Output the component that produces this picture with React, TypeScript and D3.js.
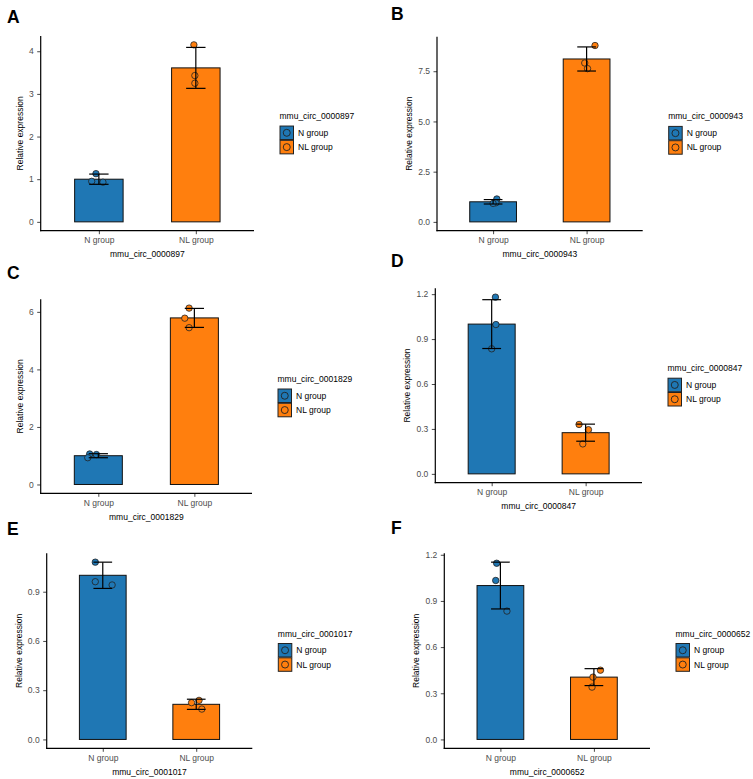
import { useEffect, useRef } from "react";
import * as d3 from "d3";

const panelLabels = ["A", "B", "C", "D", "E", "F"];
const genes = ["mmu_circ_0000897", "mmu_circ_0000943", "mmu_circ_0001829", "mmu_circ_0000847", "mmu_circ_0001017", "mmu_circ_0000652"];
const groups = ["N group", "NL group"];

const nMean = [1.0, 1.0, 1.0, 1.0, 1.0, 1.0];
const nlMean = [3.61, 8.11, 5.79, 0.275, 0.214, 0.405];
const nSd = [0.12, 0.11, 0.07, 0.163, 0.08, 0.152];
const nlSd = [0.48, 0.6, 0.33, 0.057, 0.031, 0.055];

const nPoints = [
  [1.13, 0.95, 0.93],
  [1.14, 0.95, 0.92],
  [1.06, 0.93, 1.04],
  [1.18, 0.997, 0.835],
  [1.08, 0.961, 0.941],
  [1.145, 1.033, 0.834],
];
const nlPoints = [
  [4.15, 3.43, 3.25],
  [8.78, 7.91, 7.63],
  [6.13, 5.78, 5.45],
  [0.33, 0.295, 0.2],
  [0.224, 0.238, 0.185],
  [0.45, 0.405, 0.34],
];
// horizontal jitter, as a fraction of the group spacing
const nJitter = [
  [-0.03, -0.074, 0.042],
  [0.04, 0.03, 0.0],
  [-0.09, -0.11, -0.02],
  [0.04, 0.045, 0.0],
  [-0.08, -0.08, 0.1],
  [-0.04, -0.05, 0.07],
];
const nlJitter = [
  [-0.02, -0.01, -0.01],
  [0.09, -0.02, 0.01],
  [-0.055, -0.1, -0.055],
  [-0.07, 0.03, -0.03],
  [-0.05, 0.03, 0.06],
  [0.07, -0.01, -0.02],
];

const yTicks = [
  [0, 1, 2, 3, 4],
  [0, 2.5, 5, 7.5],
  [0, 2, 4, 6],
  [0, 0.3, 0.6, 0.9, 1.2],
  [0, 0.3, 0.6, 0.9],
  [0, 0.3, 0.6, 0.9, 1.2],
];
const tickDigits = [0, 1, 0, 1, 1, 1];

const COLORS = ["#1f77b4", "#ff7f0e"];

// plot frames in page pixels
const frames = [
  { left: 40.7, right: 254, top: 36, bottom: 230.7, lx: 7, ly: 23 },
  { left: 437, right: 642.7, top: 36.7, bottom: 230.7, lx: 391, ly: 20 },
  { left: 40.7, right: 252, top: 299.3, bottom: 493.3, lx: 7, ly: 279 },
  { left: 435.3, right: 642, top: 288.3, bottom: 482.7, lx: 391, ly: 267 },
  { left: 46.7, right: 252.3, top: 553.3, bottom: 748.3, lx: 7, ly: 535 },
  { left: 444.3, right: 650, top: 553.3, bottom: 748.3, lx: 391, ly: 534 },
];

const FONT = "'Liberation Sans', Arial, sans-serif";

export default function App() {
  const ref = useRef<SVGSVGElement>(null);

  useEffect(() => {
    if (!ref.current) return;
    const svg = d3.select(ref.current);
    svg.selectAll("*").remove();

    genes.forEach((gene, i) => {
      const f = frames[i];
      const g = svg.append("g");

      const means = [nMean[i], nlMean[i]];
      const sds = [nSd[i], nlSd[i]];
      const pts = [nPoints[i], nlPoints[i]];
      const jit = [nJitter[i], nlJitter[i]];

      const hi = Math.max(...pts.flat(), ...means.map((m, k) => m + sds[k]));
      const y = d3
        .scaleLinear()
        .domain([-0.05 * hi, 1.05 * hi])
        .range([f.bottom, f.top]);
      const x = d3.scalePoint<string>().domain(groups).range([f.left, f.right]).padding(0.6);
      const step = x.step();
      const barW = step * 0.5;
      const capW = step * 0.2;

      // panel letter
      svg
        .append("text")
        .attr("x", f.lx)
        .attr("y", f.ly)
        .attr("font-family", FONT)
        .attr("font-weight", "bold")
        .attr("font-size", 17.5)
        .attr("fill", "#000")
        .text(panelLabels[i]);

      // bars
      g.selectAll(".bar")
        .data(groups)
        .join("rect")
        .attr("x", (d) => x(d)! - barW / 2)
        .attr("y", (_, k) => y(means[k]))
        .attr("width", barW)
        .attr("height", (_, k) => y(0) - y(means[k]))
        .attr("fill", (_, k) => COLORS[k])
        .attr("stroke", "#111")
        .attr("stroke-width", 1);

      // points
      groups.forEach((grp, k) => {
        g.selectAll(null)
          .data(pts[k])
          .join("circle")
          .attr("cx", (_, j) => x(grp)! + jit[k][j] * step)
          .attr("cy", (d) => y(d))
          .attr("r", 3.2)
          .attr("fill", COLORS[k])
          .attr("stroke", "#222")
          .attr("stroke-width", 0.8);
      });

      // error bars
      groups.forEach((grp, k) => {
        const cx = x(grp)!;
        const lo = y(means[k] - sds[k]);
        const up = y(means[k] + sds[k]);
        const eb = g.append("g").attr("stroke", "#000").attr("stroke-width", 1.2).attr("fill", "none");
        eb.append("line").attr("x1", cx).attr("x2", cx).attr("y1", lo).attr("y2", up);
        eb.append("line").attr("x1", cx - capW / 2).attr("x2", cx + capW / 2).attr("y1", lo).attr("y2", lo);
        eb.append("line").attr("x1", cx - capW / 2).attr("x2", cx + capW / 2).attr("y1", up).attr("y2", up);
      });

      // y axis
      const fmt = d3.format(`.${tickDigits[i]}f`);
      const ya = g
        .append("g")
        .attr("transform", `translate(${f.left},0)`)
        .call(d3.axisLeft(y).tickValues(yTicks[i]).tickFormat((d) => fmt(d as number)).tickSize(3.5).tickPadding(3.5).tickSizeOuter(0));
      ya.select(".domain").remove();
      ya.selectAll(".tick line").attr("stroke", "#333").attr("stroke-width", 0.9);
      ya.selectAll("text").attr("font-family", FONT).attr("font-size", 8.5).attr("fill", "#4d4d4d");

      // x axis
      const xa = g
        .append("g")
        .attr("transform", `translate(0,${f.bottom})`)
        .call(d3.axisBottom(x).tickSize(3.5).tickPadding(3).tickSizeOuter(0));
      xa.select(".domain").remove();
      xa.selectAll(".tick line").attr("stroke", "#333").attr("stroke-width", 0.9);
      xa.selectAll("text").attr("font-family", FONT).attr("font-size", 8.5).attr("fill", "#4d4d4d");

      // axis lines
      g.append("line").attr("x1", f.left).attr("x2", f.left).attr("y1", f.top).attr("y2", f.bottom + 0.6).attr("stroke", "#000").attr("stroke-width", 1.2);
      g.append("line").attr("x1", f.left - 0.6).attr("x2", f.right).attr("y1", f.bottom).attr("y2", f.bottom).attr("stroke", "#000").attr("stroke-width", 1.2);

      // axis titles
      let labelLeft = f.left;
      ya.selectAll<SVGTextElement, unknown>("text").each(function () {
        const b = this.getBBox();
        const gx = f.left + b.x;
        if (gx < labelLeft) labelLeft = gx;
      });
      g.append("text")
        .attr("transform", `translate(${labelLeft - 6},${(f.top + f.bottom) / 2}) rotate(-90)`)
        .attr("text-anchor", "middle")
        .attr("font-family", FONT)
        .attr("font-size", 8.5)
        .attr("fill", "#000")
        .text("Relative expression");
      g.append("text")
        .attr("x", (f.left + f.right) / 2)
        .attr("y", f.bottom + 26.5)
        .attr("text-anchor", "middle")
        .attr("font-family", FONT)
        .attr("font-size", 8.5)
        .attr("fill", "#000")
        .text(gene);

      // legend
      const lx = f.right + 25.5;
      const ly = (f.top + f.bottom) / 2 - 14.3;
      const lg = g.append("g").attr("transform", `translate(${lx},${ly})`);
      lg.append("text").attr("x", 0).attr("y", 0).attr("font-family", FONT).attr("font-size", 8.5).attr("fill", "#000").text(gene);
      groups.forEach((grp, k) => {
        const ky = 7 + k * 14.3;
        lg.append("rect").attr("x", 0.5).attr("y", ky).attr("width", 13.5).attr("height", 13.5).attr("fill", COLORS[k]).attr("stroke", "#222").attr("stroke-width", 1);
        lg.append("circle").attr("cx", 7.25).attr("cy", ky + 6.75).attr("r", 3.5).attr("fill", COLORS[k]).attr("stroke", "#222").attr("stroke-width", 0.9);
        lg.append("text").attr("x", 18.5).attr("y", ky + 9.8).attr("font-family", FONT).attr("font-size", 8.5).attr("fill", "#000").text(grp);
      });
    });
  }, []);

  return (
    <svg
      ref={ref}
      width={753}
      height={779}
      style={{ position: "absolute", left: 0, top: 0, background: "#fff" }}
    />
  );
}
